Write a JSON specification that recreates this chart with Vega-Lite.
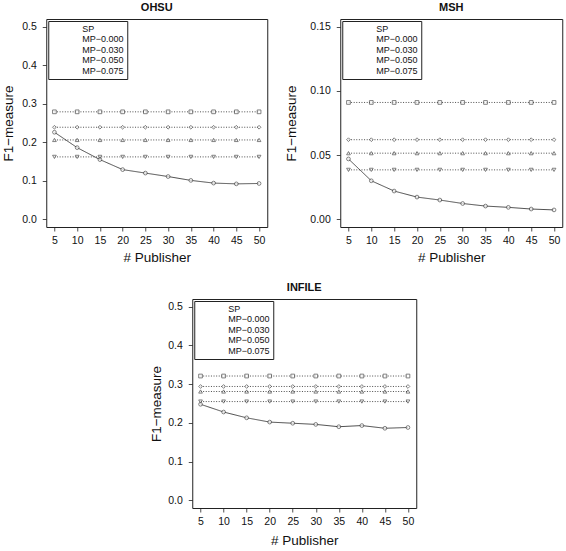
{
  "$schema": "https://vega.github.io/schema/vega-lite/v6.json",
  "padding": {"left": 1, "top": 1, "right": 2, "bottom": 4},
  "datasets": {
    "ohsu": [
      {"publishers": 5, "series": "SP", "f1": 0.226}, {"publishers": 10, "series": "SP", "f1": 0.186}, {"publishers": 15, "series": "SP", "f1": 0.155}, {"publishers": 20, "series": "SP", "f1": 0.129}, {"publishers": 25, "series": "SP", "f1": 0.120}, {"publishers": 30, "series": "SP", "f1": 0.111}, {"publishers": 35, "series": "SP", "f1": 0.101}, {"publishers": 40, "series": "SP", "f1": 0.094}, {"publishers": 45, "series": "SP", "f1": 0.092}, {"publishers": 50, "series": "SP", "f1": 0.093},
      {"publishers": 5, "series": "MP−0.000", "f1": 0.279}, {"publishers": 10, "series": "MP−0.000", "f1": 0.279}, {"publishers": 15, "series": "MP−0.000", "f1": 0.279}, {"publishers": 20, "series": "MP−0.000", "f1": 0.279}, {"publishers": 25, "series": "MP−0.000", "f1": 0.279}, {"publishers": 30, "series": "MP−0.000", "f1": 0.279}, {"publishers": 35, "series": "MP−0.000", "f1": 0.279}, {"publishers": 40, "series": "MP−0.000", "f1": 0.279}, {"publishers": 45, "series": "MP−0.000", "f1": 0.279}, {"publishers": 50, "series": "MP−0.000", "f1": 0.279},
      {"publishers": 5, "series": "MP−0.030", "f1": 0.239}, {"publishers": 10, "series": "MP−0.030", "f1": 0.239}, {"publishers": 15, "series": "MP−0.030", "f1": 0.239}, {"publishers": 20, "series": "MP−0.030", "f1": 0.239}, {"publishers": 25, "series": "MP−0.030", "f1": 0.239}, {"publishers": 30, "series": "MP−0.030", "f1": 0.239}, {"publishers": 35, "series": "MP−0.030", "f1": 0.239}, {"publishers": 40, "series": "MP−0.030", "f1": 0.239}, {"publishers": 45, "series": "MP−0.030", "f1": 0.239}, {"publishers": 50, "series": "MP−0.030", "f1": 0.239},
      {"publishers": 5, "series": "MP−0.050", "f1": 0.206}, {"publishers": 10, "series": "MP−0.050", "f1": 0.206}, {"publishers": 15, "series": "MP−0.050", "f1": 0.206}, {"publishers": 20, "series": "MP−0.050", "f1": 0.206}, {"publishers": 25, "series": "MP−0.050", "f1": 0.206}, {"publishers": 30, "series": "MP−0.050", "f1": 0.206}, {"publishers": 35, "series": "MP−0.050", "f1": 0.206}, {"publishers": 40, "series": "MP−0.050", "f1": 0.206}, {"publishers": 45, "series": "MP−0.050", "f1": 0.206}, {"publishers": 50, "series": "MP−0.050", "f1": 0.206},
      {"publishers": 5, "series": "MP−0.075", "f1": 0.162}, {"publishers": 10, "series": "MP−0.075", "f1": 0.162}, {"publishers": 15, "series": "MP−0.075", "f1": 0.162}, {"publishers": 20, "series": "MP−0.075", "f1": 0.162}, {"publishers": 25, "series": "MP−0.075", "f1": 0.162}, {"publishers": 30, "series": "MP−0.075", "f1": 0.162}, {"publishers": 35, "series": "MP−0.075", "f1": 0.162}, {"publishers": 40, "series": "MP−0.075", "f1": 0.162}, {"publishers": 45, "series": "MP−0.075", "f1": 0.162}, {"publishers": 50, "series": "MP−0.075", "f1": 0.162}
    ],
    "msh": [
      {"publishers": 5, "series": "SP", "f1": 0.047}, {"publishers": 10, "series": "SP", "f1": 0.030}, {"publishers": 15, "series": "SP", "f1": 0.022}, {"publishers": 20, "series": "SP", "f1": 0.0173}, {"publishers": 25, "series": "SP", "f1": 0.015}, {"publishers": 30, "series": "SP", "f1": 0.0123}, {"publishers": 35, "series": "SP", "f1": 0.0103}, {"publishers": 40, "series": "SP", "f1": 0.0093}, {"publishers": 45, "series": "SP", "f1": 0.008}, {"publishers": 50, "series": "SP", "f1": 0.0073},
      {"publishers": 5, "series": "MP−0.000", "f1": 0.091}, {"publishers": 10, "series": "MP−0.000", "f1": 0.091}, {"publishers": 15, "series": "MP−0.000", "f1": 0.091}, {"publishers": 20, "series": "MP−0.000", "f1": 0.091}, {"publishers": 25, "series": "MP−0.000", "f1": 0.091}, {"publishers": 30, "series": "MP−0.000", "f1": 0.091}, {"publishers": 35, "series": "MP−0.000", "f1": 0.091}, {"publishers": 40, "series": "MP−0.000", "f1": 0.091}, {"publishers": 45, "series": "MP−0.000", "f1": 0.091}, {"publishers": 50, "series": "MP−0.000", "f1": 0.091},
      {"publishers": 5, "series": "MP−0.030", "f1": 0.062}, {"publishers": 10, "series": "MP−0.030", "f1": 0.062}, {"publishers": 15, "series": "MP−0.030", "f1": 0.062}, {"publishers": 20, "series": "MP−0.030", "f1": 0.062}, {"publishers": 25, "series": "MP−0.030", "f1": 0.062}, {"publishers": 30, "series": "MP−0.030", "f1": 0.062}, {"publishers": 35, "series": "MP−0.030", "f1": 0.062}, {"publishers": 40, "series": "MP−0.030", "f1": 0.062}, {"publishers": 45, "series": "MP−0.030", "f1": 0.062}, {"publishers": 50, "series": "MP−0.030", "f1": 0.062},
      {"publishers": 5, "series": "MP−0.050", "f1": 0.0515}, {"publishers": 10, "series": "MP−0.050", "f1": 0.0515}, {"publishers": 15, "series": "MP−0.050", "f1": 0.0515}, {"publishers": 20, "series": "MP−0.050", "f1": 0.0515}, {"publishers": 25, "series": "MP−0.050", "f1": 0.0515}, {"publishers": 30, "series": "MP−0.050", "f1": 0.0515}, {"publishers": 35, "series": "MP−0.050", "f1": 0.0515}, {"publishers": 40, "series": "MP−0.050", "f1": 0.0515}, {"publishers": 45, "series": "MP−0.050", "f1": 0.0515}, {"publishers": 50, "series": "MP−0.050", "f1": 0.0515},
      {"publishers": 5, "series": "MP−0.075", "f1": 0.0385}, {"publishers": 10, "series": "MP−0.075", "f1": 0.0385}, {"publishers": 15, "series": "MP−0.075", "f1": 0.0385}, {"publishers": 20, "series": "MP−0.075", "f1": 0.0385}, {"publishers": 25, "series": "MP−0.075", "f1": 0.0385}, {"publishers": 30, "series": "MP−0.075", "f1": 0.0385}, {"publishers": 35, "series": "MP−0.075", "f1": 0.0385}, {"publishers": 40, "series": "MP−0.075", "f1": 0.0385}, {"publishers": 45, "series": "MP−0.075", "f1": 0.0385}, {"publishers": 50, "series": "MP−0.075", "f1": 0.0385}
    ],
    "infile": [
      {"publishers": 5, "series": "SP", "f1": 0.248}, {"publishers": 10, "series": "SP", "f1": 0.228}, {"publishers": 15, "series": "SP", "f1": 0.213}, {"publishers": 20, "series": "SP", "f1": 0.202}, {"publishers": 25, "series": "SP", "f1": 0.199}, {"publishers": 30, "series": "SP", "f1": 0.196}, {"publishers": 35, "series": "SP", "f1": 0.190}, {"publishers": 40, "series": "SP", "f1": 0.193}, {"publishers": 45, "series": "SP", "f1": 0.186}, {"publishers": 50, "series": "SP", "f1": 0.188},
      {"publishers": 5, "series": "MP−0.000", "f1": 0.321}, {"publishers": 10, "series": "MP−0.000", "f1": 0.321}, {"publishers": 15, "series": "MP−0.000", "f1": 0.321}, {"publishers": 20, "series": "MP−0.000", "f1": 0.321}, {"publishers": 25, "series": "MP−0.000", "f1": 0.321}, {"publishers": 30, "series": "MP−0.000", "f1": 0.321}, {"publishers": 35, "series": "MP−0.000", "f1": 0.321}, {"publishers": 40, "series": "MP−0.000", "f1": 0.321}, {"publishers": 45, "series": "MP−0.000", "f1": 0.321}, {"publishers": 50, "series": "MP−0.000", "f1": 0.321},
      {"publishers": 5, "series": "MP−0.030", "f1": 0.294}, {"publishers": 10, "series": "MP−0.030", "f1": 0.294}, {"publishers": 15, "series": "MP−0.030", "f1": 0.294}, {"publishers": 20, "series": "MP−0.030", "f1": 0.294}, {"publishers": 25, "series": "MP−0.030", "f1": 0.294}, {"publishers": 30, "series": "MP−0.030", "f1": 0.294}, {"publishers": 35, "series": "MP−0.030", "f1": 0.294}, {"publishers": 40, "series": "MP−0.030", "f1": 0.294}, {"publishers": 45, "series": "MP−0.030", "f1": 0.294}, {"publishers": 50, "series": "MP−0.030", "f1": 0.294},
      {"publishers": 5, "series": "MP−0.050", "f1": 0.281}, {"publishers": 10, "series": "MP−0.050", "f1": 0.281}, {"publishers": 15, "series": "MP−0.050", "f1": 0.281}, {"publishers": 20, "series": "MP−0.050", "f1": 0.281}, {"publishers": 25, "series": "MP−0.050", "f1": 0.281}, {"publishers": 30, "series": "MP−0.050", "f1": 0.281}, {"publishers": 35, "series": "MP−0.050", "f1": 0.281}, {"publishers": 40, "series": "MP−0.050", "f1": 0.281}, {"publishers": 45, "series": "MP−0.050", "f1": 0.281}, {"publishers": 50, "series": "MP−0.050", "f1": 0.281},
      {"publishers": 5, "series": "MP−0.075", "f1": 0.255}, {"publishers": 10, "series": "MP−0.075", "f1": 0.255}, {"publishers": 15, "series": "MP−0.075", "f1": 0.255}, {"publishers": 20, "series": "MP−0.075", "f1": 0.255}, {"publishers": 25, "series": "MP−0.075", "f1": 0.255}, {"publishers": 30, "series": "MP−0.075", "f1": 0.255}, {"publishers": 35, "series": "MP−0.075", "f1": 0.255}, {"publishers": 40, "series": "MP−0.075", "f1": 0.255}, {"publishers": 45, "series": "MP−0.075", "f1": 0.255}, {"publishers": 50, "series": "MP−0.075", "f1": 0.255}
    ]
  },
  "config": {
    "font": "Liberation Sans",
    "view": {"stroke": "#222222", "strokeWidth": 1},
    "axis": {"domain": false, "grid": false, "tickColor": "#222222", "tickSize": 4, "tickWidth": 0.8, "labelFontSize": 10.5, "labelColor": "#111111", "titleFontSize": 13.5, "titleFontWeight": "normal", "titleColor": "#111111", "labelPadding": 6, "labelOverlap": false},
    "axisY": {"labelAngle": 0, "titlePadding": 6, "labelPadding": 6},
    "axisX": {"titlePadding": 4.5, "labelPadding": 4, "labelOverlap": false},
    "title": {"fontSize": 11, "fontWeight": "bold", "offset": 6, "color": "#111111"}
  },
  "vconcat": [
    {
      "hconcat": [
        {
          "title": "OHSU",
          "width": 221, "height": 208,
          "data": {"name": "ohsu"},
          "encoding": {
            "x": {"field": "publishers", "type": "quantitative", "scale": {"domain": [3.2, 51.8], "nice": false, "zero": false}, "axis": {"values": [5, 10, 15, 20, 25, 30, 35, 40, 45, 50], "title": "# Publisher", "labelOverlap": false}},
            "y": {"field": "f1", "type": "quantitative", "scale": {"domain": [-0.02, 0.52], "nice": false, "zero": false}, "axis": {"values": [0, 0.1, 0.2, 0.3, 0.4, 0.5], "format": ".1f", "title": "F1−measure", "labelOverlap": false}}
          },
          "layer": [
            {
              "mark": {"type": "line", "color": "#222222", "strokeWidth": 0.8},
              "encoding": {
                "strokeDash": {"field": "series", "type": "nominal", "scale": {"domain": ["SP", "MP−0.000", "MP−0.030", "MP−0.050", "MP−0.075"], "range": [[1, 0], [1, 1.6], [1, 1.6], [1, 1.6], [1, 1.6]]}, "legend": null}
              }
            },
            {
              "mark": {"type": "point", "filled": true, "fill": "white", "stroke": "#222222", "strokeWidth": 0.8, "size": 14},
              "encoding": {
                "shape": {"field": "series", "type": "nominal", "scale": {"domain": ["SP", "MP−0.000", "MP−0.030", "MP−0.050", "MP−0.075"], "range": ["circle", "square", "diamond", "triangle-up", "triangle-down"]},
                  "legend": {"title": null, "orient": "top-left", "offset": 2, "padding": 3, "strokeColor": "#222222", "labelFontSize": 9, "labelColor": "#111111", "symbolSize": 20, "symbolOffset": 6, "labelOffset": 16, "rowPadding": 0.5, "symbolStrokeColor": "#222222", "symbolFillColor": "white", "symbolStrokeWidth": 0.8}
                }
              }
            }
          ]
        },
        {
          "title": "MSH",
          "width": 222, "height": 208,
          "data": {"name": "msh"},
          "encoding": {
            "x": {"field": "publishers", "type": "quantitative", "scale": {"domain": [3.2, 51.8], "nice": false, "zero": false}, "axis": {"values": [5, 10, 15, 20, 25, 30, 35, 40, 45, 50], "title": "# Publisher", "labelOverlap": false}},
            "y": {"field": "f1", "type": "quantitative", "scale": {"domain": [-0.006, 0.156], "nice": false, "zero": false}, "axis": {"values": [0, 0.05, 0.1, 0.15], "format": ".2f", "title": "F1−measure", "titlePadding": 11, "labelOverlap": false}}
          },
          "layer": [
            {
              "mark": {"type": "line", "color": "#222222", "strokeWidth": 0.8},
              "encoding": {
                "strokeDash": {"field": "series", "type": "nominal", "scale": {"domain": ["SP", "MP−0.000", "MP−0.030", "MP−0.050", "MP−0.075"], "range": [[1, 0], [1, 1.6], [1, 1.6], [1, 1.6], [1, 1.6]]}, "legend": null}
              }
            },
            {
              "mark": {"type": "point", "filled": true, "fill": "white", "stroke": "#222222", "strokeWidth": 0.8, "size": 14},
              "encoding": {
                "shape": {"field": "series", "type": "nominal", "scale": {"domain": ["SP", "MP−0.000", "MP−0.030", "MP−0.050", "MP−0.075"], "range": ["circle", "square", "diamond", "triangle-up", "triangle-down"]},
                  "legend": {"title": null, "orient": "none", "legendX": 2, "legendY": 2, "padding": 3, "strokeColor": "#222222", "labelFontSize": 9, "labelColor": "#111111", "symbolSize": 20, "symbolOffset": 6, "labelOffset": 16, "rowPadding": 0.5, "symbolStrokeColor": "#222222", "symbolFillColor": "white", "symbolStrokeWidth": 0.8}
                }
              }
            }
          ]
        }
      ],
      "spacing": 16
    },
    {
      "title": "INFILE",
      "width": 224, "height": 209,
      "data": {"name": "infile"},
      "encoding": {
        "x": {"field": "publishers", "type": "quantitative", "scale": {"domain": [3.2, 51.8], "nice": false, "zero": false}, "axis": {"values": [5, 10, 15, 20, 25, 30, 35, 40, 45, 50], "title": "# Publisher", "titlePadding": 7, "labelOverlap": false}},
        "y": {"field": "f1", "type": "quantitative", "scale": {"domain": [-0.02, 0.52], "nice": false, "zero": false}, "axis": {"values": [0, 0.1, 0.2, 0.3, 0.4, 0.5], "format": ".1f", "title": "F1−measure", "titlePadding": 4, "labelOverlap": false}}
      },
      "layer": [
        {
          "mark": {"type": "line", "color": "#222222", "strokeWidth": 0.8},
          "encoding": {
            "strokeDash": {"field": "series", "type": "nominal", "scale": {"domain": ["SP", "MP−0.000", "MP−0.030", "MP−0.050", "MP−0.075"], "range": [[1, 0], [1, 1.6], [1, 1.6], [1, 1.6], [1, 1.6]]}, "legend": null}
          }
        },
        {
          "mark": {"type": "point", "filled": true, "fill": "white", "stroke": "#222222", "strokeWidth": 0.8, "size": 14},
          "encoding": {
            "shape": {"field": "series", "type": "nominal", "scale": {"domain": ["SP", "MP−0.000", "MP−0.030", "MP−0.050", "MP−0.075"], "range": ["circle", "square", "diamond", "triangle-up", "triangle-down"]},
              "legend": {"title": null, "orient": "none", "legendX": 2, "legendY": 2, "padding": 3, "strokeColor": "#222222", "labelFontSize": 9, "labelColor": "#111111", "symbolSize": 20, "symbolOffset": 6, "labelOffset": 16, "rowPadding": 0.5, "symbolStrokeColor": "#222222", "symbolFillColor": "white", "symbolStrokeWidth": 0.8}
            }
          }
        }
      ]
    }
  ],
  "spacing": 17,
  "center": true,
  "resolve": {"legend": {"shape": "independent"}}
}
